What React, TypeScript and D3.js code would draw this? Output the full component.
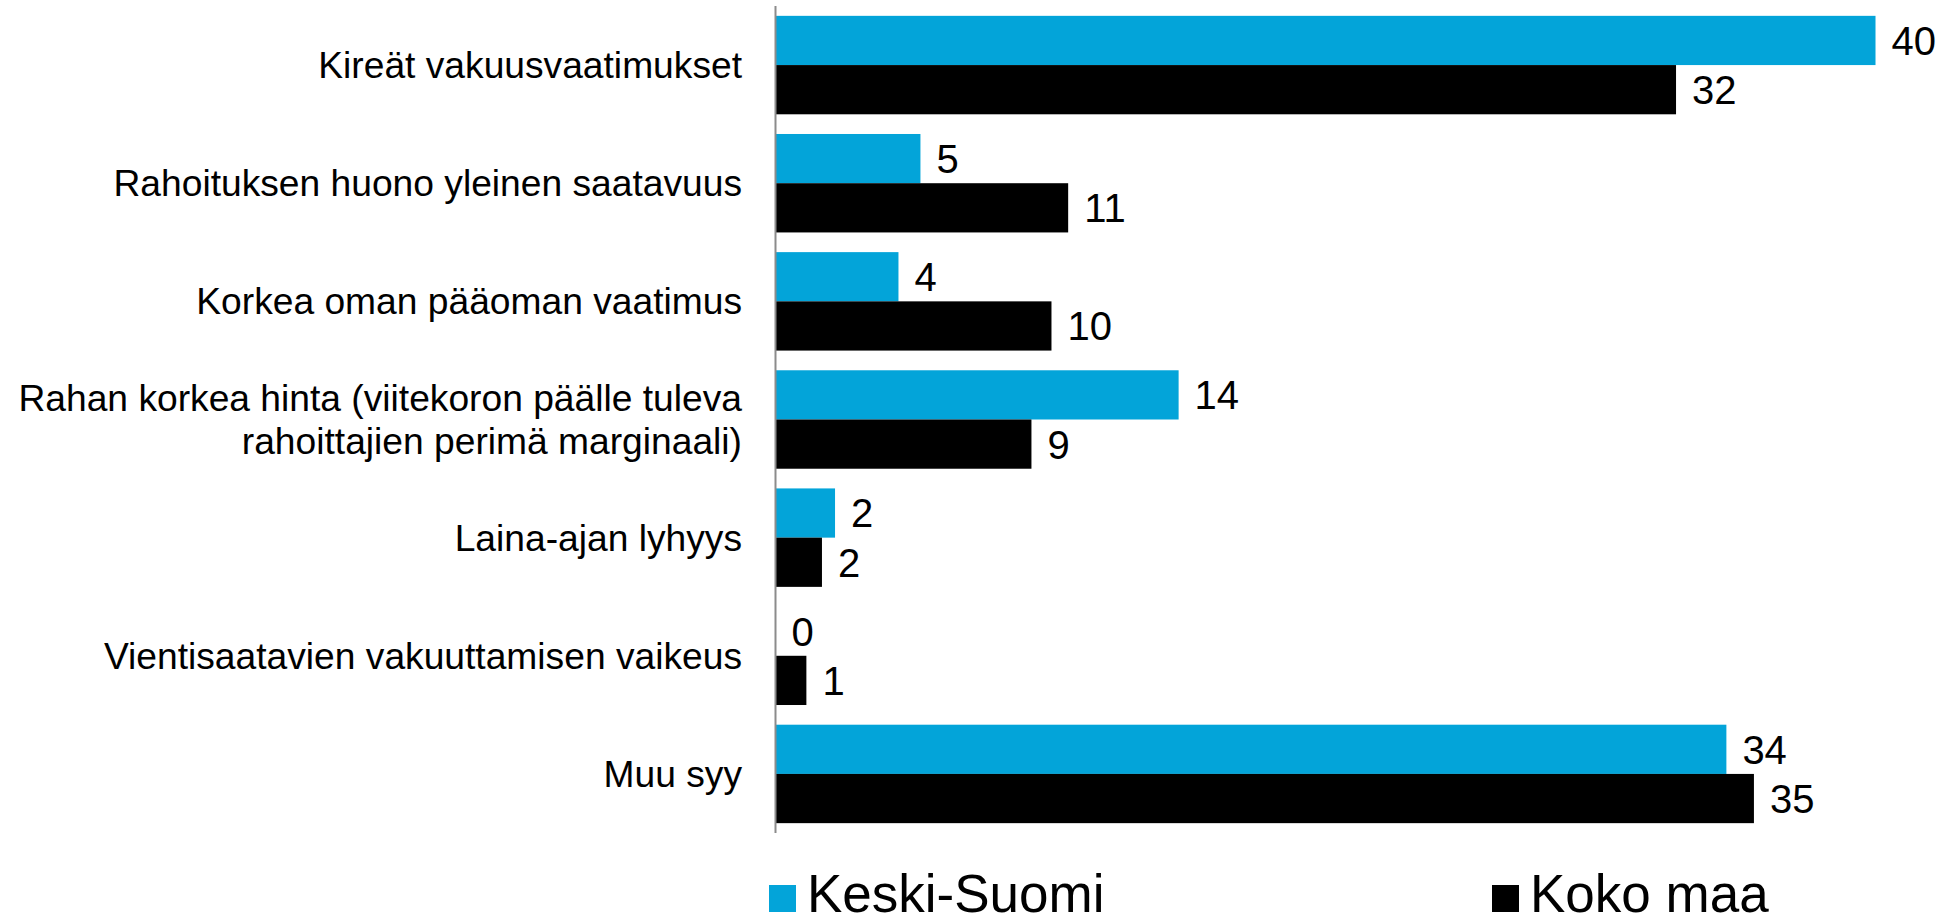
import React from 'react';
import * as d3 from 'd3';

const categories = [
  'Kireät vakuusvaatimukset',
  'Rahoituksen huono yleinen saatavuus',
  'Korkea oman pääoman vaatimus',
  'Rahan korkea hinta (viitekoron päälle tuleva|rahoittajien perimä marginaali)',
  'Laina-ajan lyhyys',
  'Vientisaatavien vakuuttamisen vaikeus',
  'Muu syy',
];
const seriesNames = ['Keski-Suomi', 'Koko maa'];
const keskiSuomi = [39.54, 5.21, 4.42, 14.49, 2.14, 0, 34.18];
const kokoMaa = [32.37, 10.52, 9.92, 9.2, 1.67, 1.11, 35.17];
const colors = ['#03a4d9', '#000000'];

const W = 1945;
const H = 919;
const font = '"Liberation Sans", Arial, sans-serif';

const App = () => {
  const x = d3.scaleLinear().domain([0, 40]).range([775.5, 775.5 + 40 * 27.82]);
  const y0 = d3.scaleBand<string>().domain(categories).range([6, 833]);
  const y1 = d3.scaleBand<string>().domain(seriesNames).range([0, y0.bandwidth()]).paddingOuter(0.2);
  const values = [keskiSuomi, kokoMaa];

  return (
    <svg width={W} height={H} style={{ position: 'absolute', left: 0, top: 0, display: 'block' }} fontFamily={font}>
      <rect width={W} height={H} fill="#fff" />
      {categories.map((c, i) => {
        const lines = c.split('|');
        const cy = (y0(c) as number) + y0.bandwidth() / 2;
        const lh = 43.4;
        return (
          <g key={c}>
            <text x={742} textAnchor="end" fontSize={37.2} fill="#000">
              {lines.map((l, j) => (
                <tspan key={j} x={742} y={cy + (j - (lines.length - 1) / 2) * lh} dy="0.35em">{l}</tspan>
              ))}
            </text>
            {seriesNames.map((s, k) => {
              const v = values[k][i];
              const by = (y0(c) as number) + (y1(s) as number);
              return (
                <g key={s}>
                  <rect x={x(0)} y={by} width={x(v) - x(0)} height={y1.bandwidth()} fill={colors[k]} />
                  <text x={x(v) + 16} y={by + y1.bandwidth() / 2} dy="0.36em" fontSize={40} fill="#000">
                    {Math.round(v)}
                  </text>
                </g>
              );
            })}
          </g>
        );
      })}
      <line x1={x(0)} x2={x(0)} y1={6} y2={833} stroke="#8c8c8c" strokeWidth={2} />
      {seriesNames.map((s, k) => {
        const lx = k === 0 ? 769 : 1492;
        return (
          <g key={s}>
            <rect x={lx} y={885} width={27} height={27} fill={colors[k]} />
            <text x={lx + 38} y={912} fontSize={53} fill="#000">{s}</text>
          </g>
        );
      })}
    </svg>
  );
};

export default App;
